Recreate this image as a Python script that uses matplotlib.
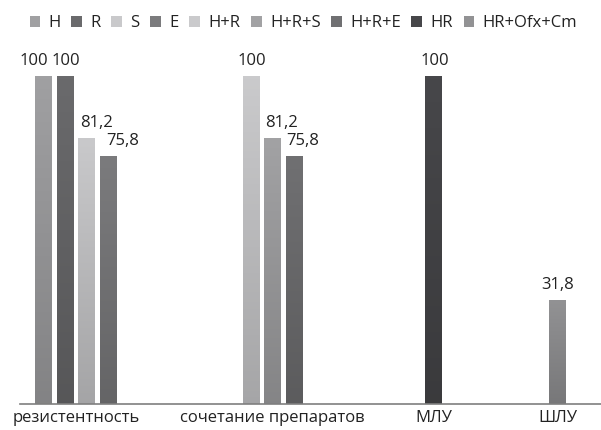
import numpy as np
import matplotlib
matplotlib.use("Agg")
import matplotlib.pyplot as plt
from matplotlib.colors import to_rgb, LinearSegmentedColormap
from matplotlib.patches import Patch

plt.rcParams['font.family'] = ['Open Sans', 'DejaVu Sans']

categories = ["резистентность", "сочетание препаратов", "МЛУ", "ШЛУ"]
series = ["H", "R", "S", "E", "H+R", "H+R+S", "H+R+E", "HR", "HR+Ofx+Cm"]
colors = ["#a0a0a2", "#6a6a6c", "#c9c9cb", "#7b7b7d", "#cacacc",
          "#a2a2a4", "#707072", "#47474a", "#929294"]
# which category each series belongs to, and its value
series_cat = [0, 0, 0, 0, 1, 1, 1, 2, 3]
values = [100, 100, 81.2, 75.8, 100, 81.2, 75.8, 100, 31.8]
value_labels = ["100", "100", "81,2", "75,8", "100", "81,2", "75,8", "100", "31,8"]

# group centres on the x axis (axis units roughly follow pixels)
centers = [56, 252.5, 413.5, 537.5]
bar_w = 17
step = 21.5
# sideways nudges of the value labels so they do not collide
label_dx = [-10, 1, 10, 14, 1, 8.5, 9, 1.5, 0.5]

fig = plt.figure(figsize=(6.01, 4.30), dpi=100)
ax = fig.add_axes([20 / 601, 26 / 430, 581 / 601, 354 / 430])
ax.set_xlim(0, 581)
ax.set_ylim(0, 108)
px = 108 / 354  # data units per pixel vertically

for c in range(len(categories)):
    idx = [i for i in range(len(series)) if series_cat[i] == c]
    n = len(idx)
    for k, i in enumerate(idx):
        x = centers[c] + (k - (n - 1) / 2) * step
        bar = ax.bar(x, values[i], width=bar_w, color=colors[i], zorder=2)[0]
        # vertical shading, slightly darker toward the base
        top = np.array(to_rgb(colors[i]))
        cmap = LinearSegmentedColormap.from_list("g", [top * 0.82, top])
        grad = np.linspace(0, 1, 100).reshape(-1, 1)
        im = ax.imshow(grad, cmap=cmap, aspect="auto", origin="lower",
                       extent=[x - bar_w / 2, x + bar_w / 2, 0, values[i]],
                       zorder=3)
        im.set_clip_path(bar)
        ax.text(x + label_dx[i], values[i] + 11 * px, value_labels[i],
                ha="center", va="baseline", fontsize=12, color="#222222")

ax.set_xticks(centers)
ax.set_xticklabels(categories, fontsize=12, color="#222222")
ax.tick_params(axis="x", length=0, pad=4)
ax.set_yticks([])
for s in ["top", "right", "left"]:
    ax.spines[s].set_visible(False)
ax.spines["bottom"].set_color("#7f7f7f")
ax.spines["bottom"].set_linewidth(1.2)
ax.spines["bottom"].set_zorder(4)

handles = [Patch(facecolor=colors[i], edgecolor="none") for i in range(len(series))]
fig.legend(handles, series, loc="upper center", bbox_to_anchor=(0.505, 1.0),
           ncol=len(series), frameon=False, fontsize=12,
           handlelength=0.65, handleheight=0.65, handletextpad=0.5,
           columnspacing=0.63, labelcolor="#222222")

fig.savefig("out.png", dpi=100)
